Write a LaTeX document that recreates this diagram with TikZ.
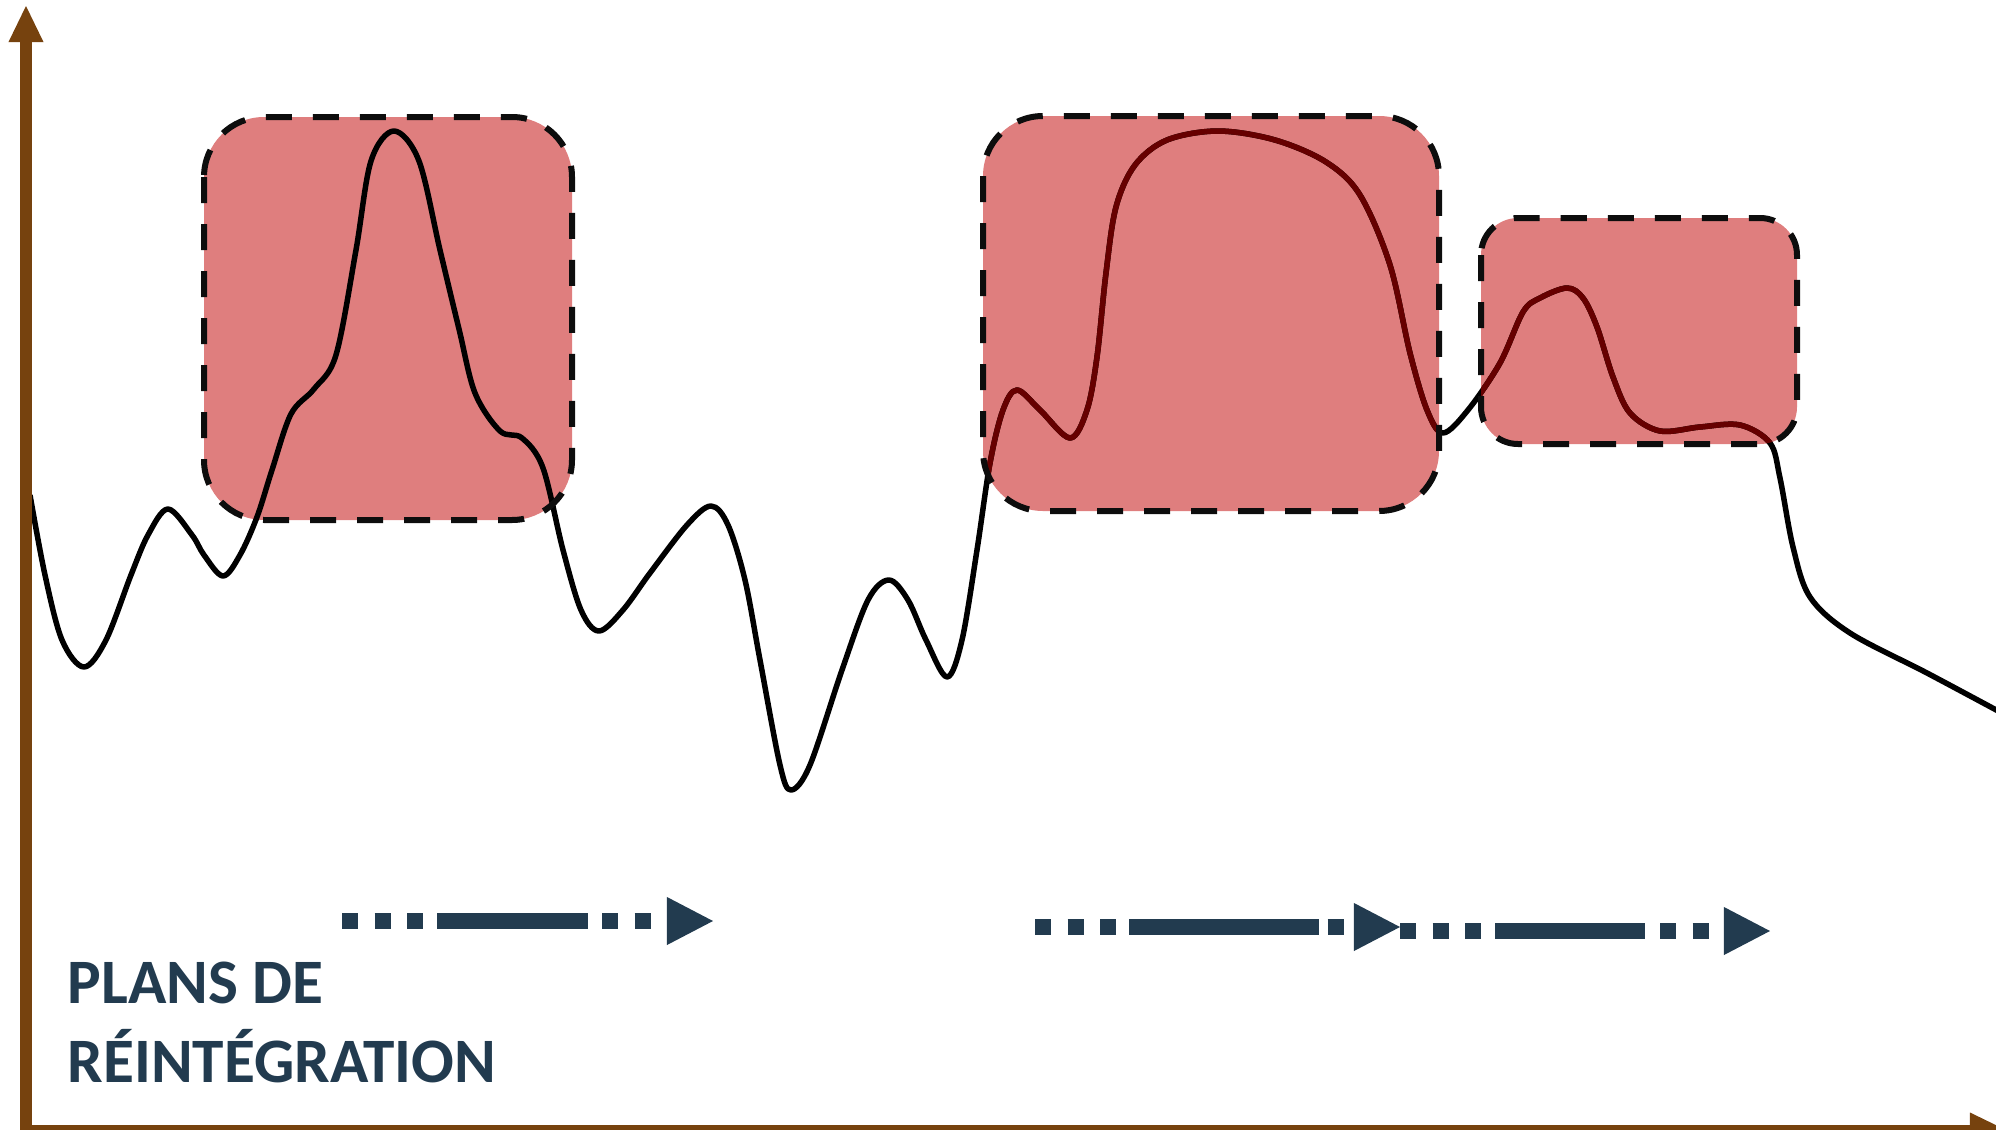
\documentclass[tikz,border=0pt]{standalone}
\usepackage{fontspec}
\newfontfamily\plansfont{Carlito}
\usetikzlibrary{arrows.meta}

\definecolor{zonefill}{RGB}{223,126,126}
\definecolor{curvered}{RGB}{102,0,0}
\definecolor{planblue}{RGB}{34,59,79}
\definecolor{axisbrown}{RGB}{118,66,14}

\begin{document}
\begin{tikzpicture}[
  x=0.01cm, y=-0.01cm,
  axis/.style={draw=axisbrown, line width=0.11cm, -{Triangle[length=0.36cm, width=0.35cm, line width=0pt]}},
  zone/.style={fill=zonefill, draw=none},
  zoneborder/.style={draw=black!95, line width=0.06cm, dash pattern=on 0.26cm off 0.21cm},
  profile/.style={line width=0.055cm, line join=round},
  dots/.style={draw=planblue, line width=0.16cm, dash pattern=on 0.16cm off 0.165cm, -{Triangle[length=0.46cm, width=0.48cm, line width=0pt]}},
  bar/.style={draw=planblue, line width=0.16cm},
  plans/.style={font=\plansfont\bfseries\fontsize{18}{22}\selectfont, text=planblue, inner sep=0pt, anchor=base west},
]
\useasboundingbox (0,0) rectangle (1996,1130);

% ---- shaded zones ----
\path[zone, rounded corners=0.6cm] (204,117) rectangle (572,520);
\path[zone, rounded corners=0.6cm] (983,116) rectangle (1439,511);
\path[zone, rounded corners=0.37cm] (1481,218) rectangle (1797,444);

% ---- profile ----
\draw[profile, save path=\profilepath] plot[smooth, tension=0.55] coordinates {
  (30,495) (45,575) (62,640) (84,667) (106,640) (131,575) (148,535)
  (168,509) (192,535) (204,555) (223,576) (240,555) (257,517) (272,470)
  (291,414) (314,389) (336,355) (356,250) (371,161) (394,131) (419,161)
  (440,250) (459,329) (475,393) (500,431) (522,438) (543,468) (563,550)
  (581,610) (599,631) (623,610) (650,573) (687,525) (711,506) (728,525)
  (745,580) (760,660) (780,765) (791,790) (810,765) (842,670) (868,600)
  (889,580) (908,600) (926,640) (947,677) (962,640) (977,550) (990,463)
  (1003,410) (1017,390) (1040,410) (1070,438) (1087,410) (1097,357)
  (1106,273) (1116,207) (1135,165) (1167,140) (1218,131) (1275,140)
  (1326,162) (1360,195) (1390,265) (1410,353) (1427,410) (1443,433)
  (1468,410) (1500,363) (1523,312) (1540,298) (1567,288) (1583,298)
  (1597,327) (1613,377) (1630,413) (1660,431) (1700,427) (1740,425)
  (1770,443) (1780,478) (1793,547) (1810,597) (1850,633) (1927,673)
  (2000,712)};
\begin{scope}
  \clip[rounded corners=0.6cm] (983,116) rectangle (1439,511)
    [rounded corners=0.37cm] (1481,218) rectangle (1797,444);
  \draw[profile, draw=curvered, use path=\profilepath];
\end{scope}

% ---- dashed borders ----
\draw[zoneborder, rounded corners=0.6cm] (204,117) rectangle (572,520);
\draw[zoneborder, rounded corners=0.6cm] (983,116) rectangle (1439,511);
\draw[zoneborder, rounded corners=0.37cm] (1481,218) rectangle (1797,444);

% ---- axes ----
\coordinate (origin) at (26,1130);
\coordinate (ytop) at (26,6);
\coordinate (xend) at (2006,1130);
\draw[axis] (origin) -- (ytop);
\draw[axis] (origin) -- (xend);

% ---- plans ----
\coordinate (p1) at (342,921);  \coordinate (p1tip) at (713,921);
\coordinate (b1s) at (437,921); \coordinate (b1e) at (588,921);
\draw[dots] (p1) -- (p1tip);
\draw[bar] (b1s) -- (b1e);

\coordinate (p2) at (1035,927);  \coordinate (p2tip) at (1400,927);
\coordinate (b2s) at (1129,927); \coordinate (b2e) at (1319,927);
\draw[dots] (p2) -- (p2tip);
\draw[bar] (b2s) -- (b2e);

\coordinate (p3) at (1400,931);  \coordinate (p3tip) at (1770,931);
\coordinate (b3s) at (1495,931); \coordinate (b3e) at (1645,931);
\draw[dots] (p3) -- (p3tip);
\draw[bar] (b3s) -- (b3e);

\node[plans] (plans) at (67,1003) {PLANS DE};
\node[plans] (reint) at (67,1082) {RÉINTÉGRATION};

\end{tikzpicture}
\end{document}
